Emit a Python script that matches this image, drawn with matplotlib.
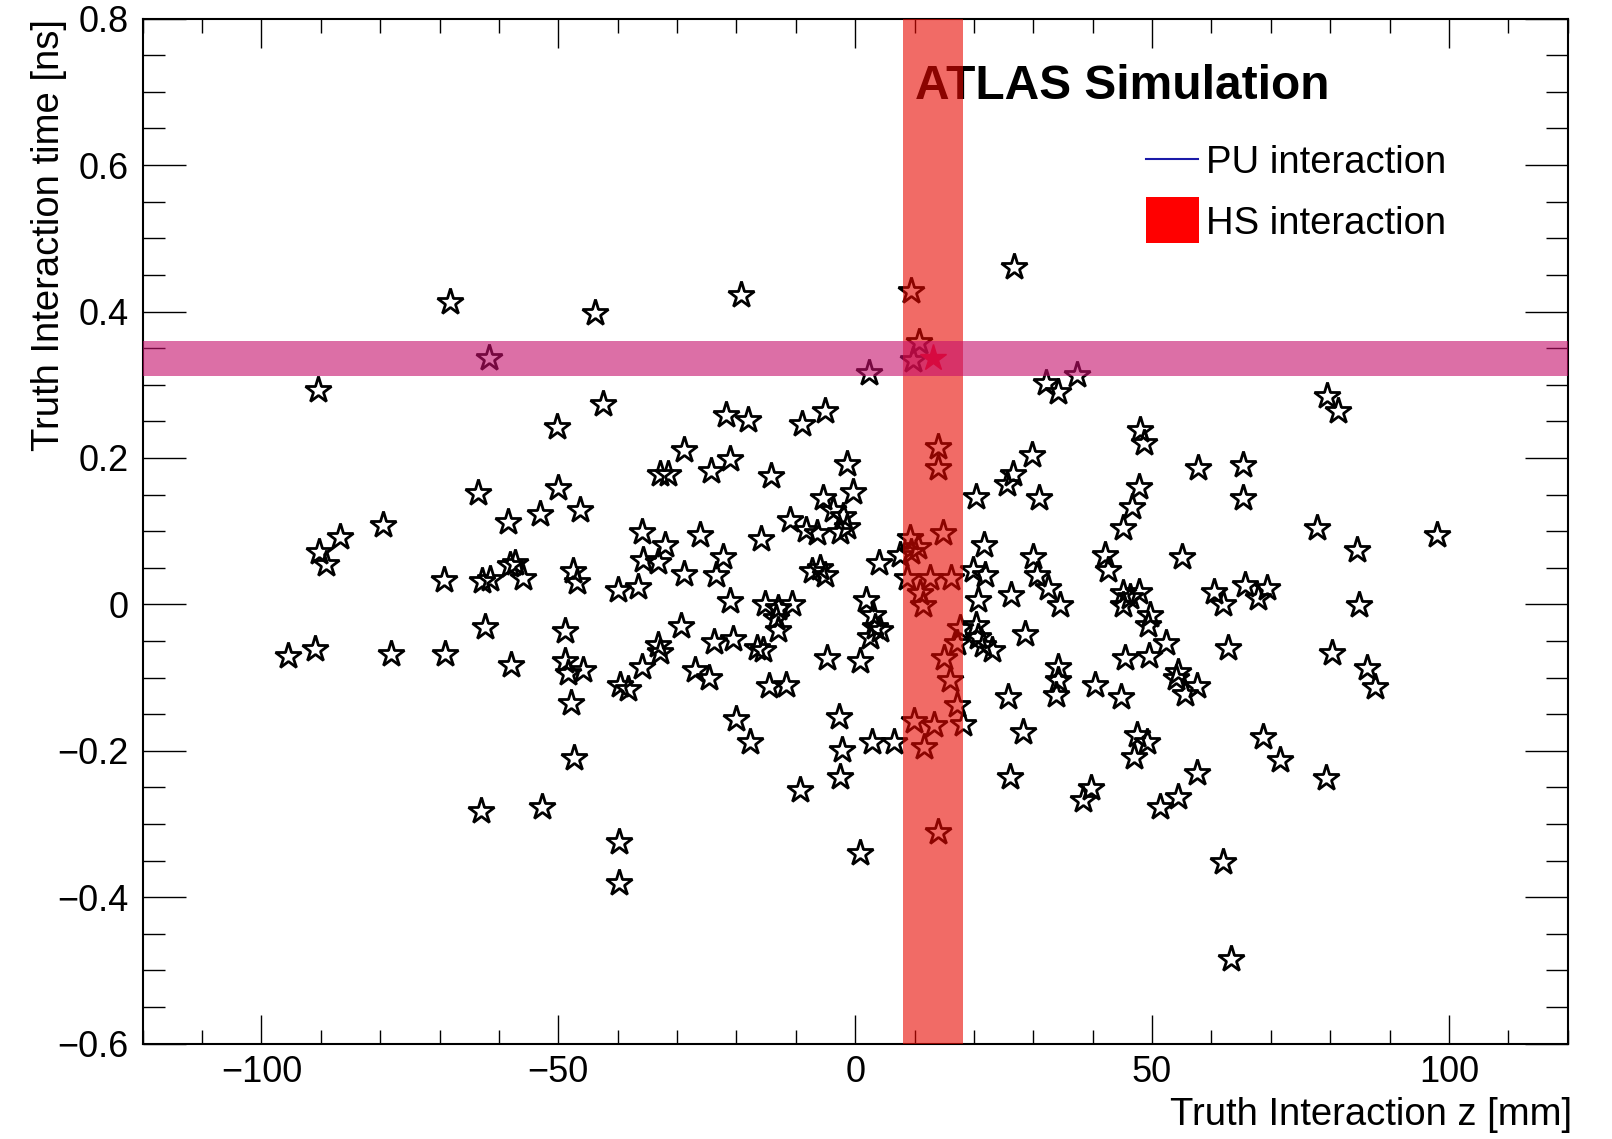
import matplotlib
matplotlib.use("Agg")
import matplotlib.pyplot as plt
from matplotlib.ticker import MultipleLocator, FuncFormatter
from matplotlib.patches import Rectangle

plt.rcParams['font.family'] = ['Liberation Sans', 'DejaVu Sans']

# pile-up vertices: truth z [mm] and truth time [ns]
pu_z = [-68.2, -43.8, -61.6, -90.4, -42.4, -50.3, -63.6, -50.0, -58.4, -53.1,
        -46.4, -79.5, -86.8, -90.3, -89.2, -69.3, -62.9, -61.5, -58.2, -57.3,
        -55.9, -47.6, -46.8, -39.9,
        -19.3, 9.4, 26.8, 10.8, 9.7, 2.3, 32.2, 34.2, 37.3,
        -21.7, -18.0, -8.9, -5.1, -28.9, -32.9, -31.5, -24.3, -21.0, -14.1,
        -1.3, 13.9, 14.0, 29.7, 26.6, 25.5, 20.3, 30.9, -5.4, -0.3,
        -3.7, -2.0, -11.0, -8.2, -6.5, -2.6, -1.4, -35.9, -26.2, -15.9,
        -32.1, -35.7, -33.2, -22.2, -28.9, -23.5, -36.5, -21.1, -15.2, -13.0,
        -10.7, -7.3, -5.9, -5.1, 4.0, 9.2, 7.6, 9.4, 10.6, 14.8,
        8.7, 12.6, 16.2, 10.9, 11.4, 21.7, 19.9, 21.8, 30.0, 30.6,
        20.7, 26.3, 32.5, 34.5, 1.9, 3.0,
        79.4, 81.3, 47.9, 48.6, 57.8, 65.3, 65.3, 47.8, 46.7, 45.1,
        77.7, 98.0, 84.5, 42.1, 42.6, 55.0, 45.1, 47.8, 45.1, 46.3,
        49.6, 60.5, 61.9, 65.6, 67.9, 69.4, 84.9,
        -62.4, -48.9, -95.6, -90.9, -78.2, -69.1, -58.0, -48.8, -48.3, -45.8,
        -47.9, -47.4, -63.0, -52.8, -39.8, -39.8,
        -39.6, -38.2, -35.9, -33.2, -32.9, -29.4, -27.0, -24.6, -23.8, -20.5,
        -16.6, -15.5, -14.5, -11.7, -13.0, -13.4, -4.8, 0.8, 3.3, 4.2,
        2.5, -20.1, -17.7, -2.7, -2.3, -2.5, -9.3, 2.9, 6.6, 9.9,
        13.3, 11.6, 18.2, 17.1, 16.0, 15.0, 17.1, 17.6, 20.4, 20.7,
        21.6, 23.0, 14.0, 0.8, 28.6, 25.8, 28.2, 26.1, 34.2, 34.2,
        33.8, 39.8, 38.4, 40.4,
        49.3, 52.3, 45.4, 49.5, 54.4, 54.1, 55.5, 57.5, 44.8, 62.8,
        80.3, 86.2, 87.5, 47.5, 49.1, 46.9, 68.7, 71.5, 79.3, 57.6,
        54.3, 51.3, 61.9, 63.3]
pu_t = [0.413, 0.398, 0.337, 0.293, 0.274, 0.242, 0.152, 0.159, 0.113, 0.124,
        0.129, 0.108, 0.092, 0.072, 0.055, 0.033, 0.032, 0.034, 0.054, 0.056,
        0.036, 0.045, 0.031, 0.020,
        0.423, 0.428, 0.461, 0.359, 0.334, 0.316, 0.302, 0.290, 0.313,
        0.259, 0.252, 0.246, 0.264, 0.211, 0.178, 0.178, 0.182, 0.199, 0.175,
        0.191, 0.215, 0.186, 0.204, 0.178, 0.164, 0.147, 0.145, 0.145, 0.154,
        0.129, 0.120, 0.115, 0.102, 0.097, 0.099, 0.106, 0.099, 0.095, 0.089,
        0.081, 0.060, 0.058, 0.065, 0.042, 0.040, 0.023, 0.005, 0.001, -0.005,
        0.001, 0.045, 0.049, 0.040, 0.056, 0.090, 0.068, 0.072, 0.078, 0.097,
        0.036, 0.036, 0.036, 0.015, -0.001, 0.081, 0.047, 0.040, 0.065, 0.040,
        0.006, 0.013, 0.022, -0.001, 0.006, -0.015,
        0.284, 0.264, 0.238, 0.221, 0.186, 0.190, 0.145, 0.160, 0.133, 0.104,
        0.104, 0.095, 0.074, 0.067, 0.047, 0.065, 0.015, 0.017, -0.001, 0.010,
        -0.015, 0.017, 0.000, 0.026, 0.008, 0.022, -0.001,
        -0.031, -0.036, -0.071, -0.061, -0.068, -0.068, -0.083, -0.078, -0.094, -0.090,
        -0.135, -0.210, -0.283, -0.277, -0.324, -0.381,
        -0.110, -0.115, -0.085, -0.056, -0.065, -0.030, -0.090, -0.100, -0.051, -0.047,
        -0.060, -0.062, -0.112, -0.110, -0.035, -0.019, -0.074, -0.077, -0.031, -0.035,
        -0.044, -0.156, -0.188, -0.154, -0.199, -0.236, -0.253, -0.188, -0.188, -0.160,
        -0.165, -0.195, -0.163, -0.138, -0.103, -0.074, -0.053, -0.033, -0.028, -0.044,
        -0.056, -0.062, -0.311, -0.340, -0.040, -0.126, -0.174, -0.236, -0.085, -0.103,
        -0.124, -0.251, -0.267, -0.110,
        -0.028, -0.053, -0.074, -0.071, -0.092, -0.101, -0.122, -0.112, -0.126, -0.060,
        -0.067, -0.087, -0.113, -0.179, -0.188, -0.208, -0.181, -0.212, -0.237, -0.230,
        -0.263, -0.277, -0.352, -0.485]

# hard-scatter vertex and the resolution bands around it
hs_z = 13.1
hs_t = 0.336
hs_dz = 5.0
hs_dt = 0.024

fig = plt.figure(figsize=(16.12, 11.39), dpi=100)
ax = fig.add_axes([0.0885, 0.0838, 0.884, 0.8998])

ax.plot(pu_z, pu_t, linestyle='none', marker='*', markersize=19.5,
        markerfacecolor='none', markeredgecolor='black', markeredgewidth=2.0, zorder=2)
ax.plot([hs_z], [hs_t], linestyle='none', marker='*', markersize=20,
        color='red', markeredgecolor='red', zorder=2)

ax.axvspan(hs_z - hs_dz, hs_z + hs_dz, color='#e90800', alpha=0.6, lw=0, zorder=5)
ax.axhspan(hs_t - hs_dt, hs_t + hs_dt, color='#c60f6b', alpha=0.6, lw=0, zorder=6)

ax.text(0.542, 0.9217, 'ATLAS Simulation', transform=ax.transAxes,
        fontsize=34.5, fontweight='bold', va='baseline', zorder=1)

# legend, drawn by hand like the ROOT one
ax.plot([0.7041, 0.7406], [0.8631, 0.8631], transform=ax.transAxes,
        color='#1a1aa8', lw=1.5, zorder=7)
ax.add_patch(Rectangle((0.7041, 0.7811), 0.0372, 0.0449, transform=ax.transAxes,
                       facecolor='red', edgecolor='none', zorder=7))
ax.text(0.7462, 0.8494, 'PU interaction', transform=ax.transAxes,
        fontsize=27.5, va='baseline', zorder=7)
ax.text(0.7462, 0.790, 'HS interaction', transform=ax.transAxes,
        fontsize=27.5, va='baseline', zorder=7)

ax.set_xlim(-120, 120)
ax.set_ylim(-0.6, 0.8)


def fmt(v, pos):
    if abs(v) < 1e-9:
        return '0'
    return ('%g' % round(v, 6)).replace('-', '\u2212')


ax.xaxis.set_major_locator(MultipleLocator(50))
ax.xaxis.set_minor_locator(MultipleLocator(10))
ax.yaxis.set_major_locator(MultipleLocator(0.2))
ax.yaxis.set_minor_locator(MultipleLocator(0.05))
ax.xaxis.set_major_formatter(FuncFormatter(fmt))
ax.yaxis.set_major_formatter(FuncFormatter(fmt))

ax.tick_params(which='both', direction='in', top=True, right=True, width=1.0)
ax.tick_params(axis='x', which='major', length=21, pad=8, labelsize=26)
ax.tick_params(axis='x', which='minor', length=10)
ax.tick_params(axis='y', which='major', length=31, pad=10, labelsize=26)
ax.tick_params(axis='y', which='minor', length=15.5)
for s in ax.spines.values():
    s.set_linewidth(1.5)

ax.set_xlabel('Truth Interaction z [mm]', fontsize=27.5, loc='right')
ax.xaxis.set_label_coords(1.003, -0.052)
ax.set_ylabel('Truth Interaction time [ns]', fontsize=27.5, loc='top')
ax.yaxis.set_label_coords(-0.053, 1.0)

fig.savefig('out.png', dpi=100)
